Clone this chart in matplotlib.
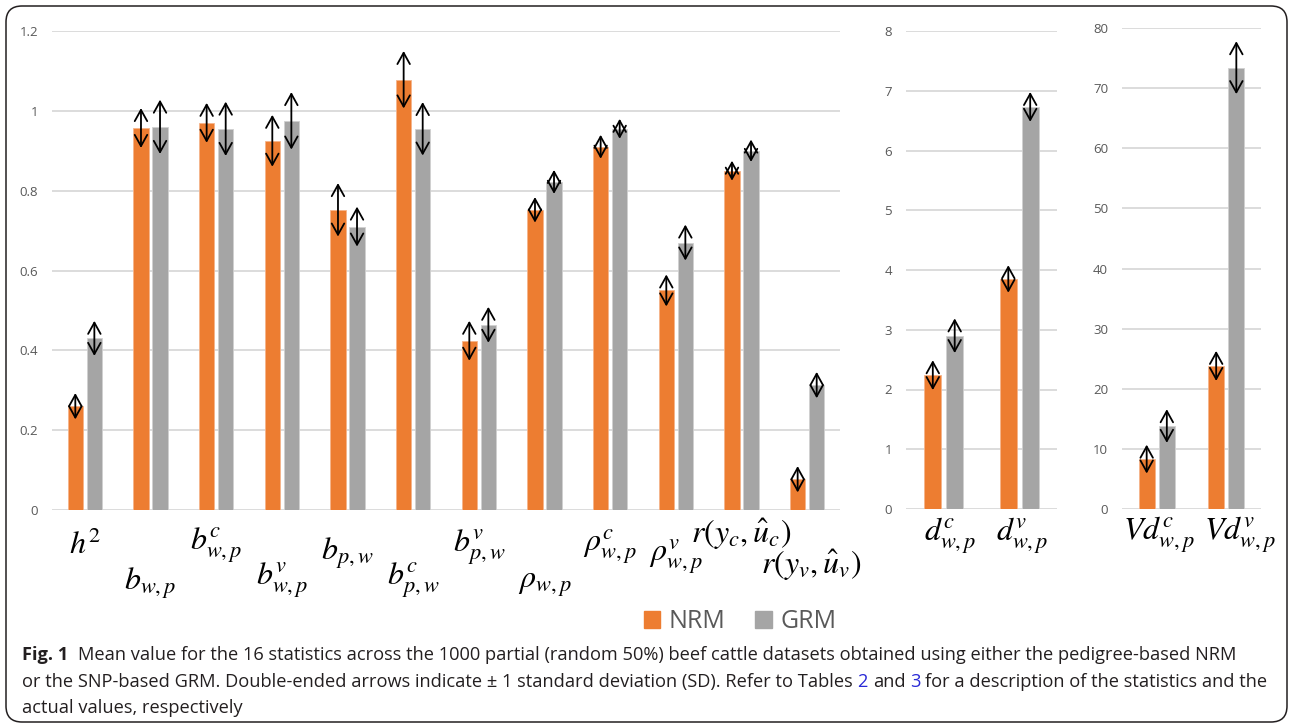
import matplotlib
matplotlib.use("Agg")
import matplotlib.pyplot as plt
import numpy as np
from matplotlib import font_manager
from matplotlib.patches import FancyBboxPatch
from matplotlib.transforms import IdentityTransform, blended_transform_factory

# ---- data -------------------------------------------------------------
stats_main = [r"$h^2$", r"$b_{w,p}$", r"$b_{w,p}^{c}$", r"$b_{w,p}^{v}$",
              r"$b_{p,w}$", r"$b_{p,w}^{c}$", r"$b_{p,w}^{v}$", r"$\rho_{w,p}$",
              r"$\rho_{w,p}^{c}$", r"$\rho_{w,p}^{v}$", r"$r(y_c,\hat{u}_c)$",
              r"$r(y_v,\hat{u}_v)$"]
nrm_main = [0.26, 0.957, 0.97, 0.925, 0.752, 1.078, 0.424, 0.752, 0.91, 0.55, 0.85, 0.077]
nrm_main_sd = [0.033, 0.05, 0.05, 0.065, 0.067, 0.072, 0.05, 0.032, 0.03, 0.04, 0.025, 0.033]
grm_main = [0.43, 0.96, 0.955, 0.975, 0.71, 0.955, 0.464, 0.822, 0.955, 0.67, 0.90, 0.313]
grm_main_sd = [0.044, 0.068, 0.068, 0.072, 0.05, 0.067, 0.045, 0.03, 0.025, 0.045, 0.028, 0.033]

stats_d = [r"$d_{w,p}^{c}$", r"$d_{w,p}^{v}$"]
nrm_d = [2.24, 3.85]
nrm_d_sd = [0.25, 0.23]
grm_d = [2.90, 6.73]
grm_d_sd = [0.29, 0.25]

stats_vd = [r"$Vd_{w,p}^{c}$", r"$Vd_{w,p}^{v}$"]
nrm_vd = [8.3, 23.8]
nrm_vd_sd = [2.4, 2.5]
grm_vd = [13.8, 73.4]
grm_vd_sd = [2.8, 4.4]

ticks_main = [0, 0.2, 0.4, 0.6, 0.8, 1.0, 1.2]
ticklabels_main = ["0", "0.2", "0.4", "0.6", "0.8", "1", "1.2"]
ticks_d = list(range(0, 9))
ticks_vd = list(range(0, 81, 10))

ORANGE = "#ED7D31"
GREY = "#A5A5A5"
GRID = "#D9D9D9"
TICK = "#595959"
INK = "#231F20"

W, H = 1290, 727
avail = {f.name for f in font_manager.fontManager.ttflist}
ui_font = "Open Sans" if "Open Sans" in avail else "DejaVu Sans"
plt.rcParams["mathtext.fontset"] = "stix"

fig = plt.figure(figsize=(W / 100, H / 100), dpi=100)


def px_axes(x0, x1, y_top, y_bot):
    return fig.add_axes([x0 / W, 1 - y_bot / H, (x1 - x0) / W, (y_bot - y_top) / H])


def draw_panel(ax, labels, nrm, nrm_sd, grm, grm_sd, ticks, ticklabels, ymax,
               label_y, label_dx):
    x = np.arange(len(labels))
    off, bw = 0.145, 0.23
    ax.bar(x - off, nrm, bw, color=ORANGE, edgecolor="#F6B48A", linewidth=0.6, zorder=2)
    ax.bar(x + off, grm, bw, color=GREY, edgecolor="#D0D0D0", linewidth=0.6, zorder=2)
    arrow = dict(arrowstyle="<->,head_length=0.45,head_width=0.25",
                 color="black", lw=1.3, shrinkA=0, shrinkB=0, mutation_scale=18)
    for xi, v, s in zip(x - off, nrm, nrm_sd):
        ax.annotate("", xy=(xi, v + s), xytext=(xi, v - s), arrowprops=arrow, zorder=3)
    for xi, v, s in zip(x + off, grm, grm_sd):
        ax.annotate("", xy=(xi, v + s), xytext=(xi, v - s), arrowprops=arrow, zorder=3)
    ax.set_xlim(-0.5, len(labels) - 0.5)
    ax.set_ylim(0, ymax)
    ax.set_yticks(ticks)
    ax.set_yticklabels(ticklabels)
    ax.set_xticks([])
    ax.grid(axis="y", color=GRID, lw=1.3, zorder=0)
    ax.set_axisbelow(True)
    for sp in ax.spines.values():
        sp.set_visible(False)
    ax.tick_params(axis="y", length=0, pad=10, labelsize=9.5, labelcolor=TICK)
    for lab in ax.get_yticklabels():
        lab.set_fontfamily(ui_font)
    tr = blended_transform_factory(ax.transData, fig.transFigure)
    for xi, lab, ly, dx in zip(x, labels, label_y, label_dx):
        ax.text(xi + dx, 1 - ly / H, lab, transform=tr, ha="center", va="center",
                fontsize=23, color="black", clip_on=False)


ax1 = px_axes(52, 840, 31, 510)
draw_panel(ax1, stats_main, nrm_main, nrm_main_sd, grm_main, grm_main_sd,
           ticks_main, ticklabels_main, 1.2,
           [545, 583, 545, 580, 553, 580, 547, 583, 547, 557, 534, 565],
           [0, 0, 0, 0, 0, 0, 0, 0, 0, 0, 0, 0.06])

ax2 = px_axes(906, 1057, 31, 509)
draw_panel(ax2, stats_d, nrm_d, nrm_d_sd, grm_d, grm_d_sd,
           ticks_d, [str(t) for t in ticks_d], 8, [536, 536], [0.08, 0.04])

ax3 = px_axes(1122, 1261, 28, 509)
draw_panel(ax3, stats_vd, nrm_vd, nrm_vd_sd, grm_vd, grm_vd_sd,
           ticks_vd, [str(t) for t in ticks_vd], 80, [535, 535], [0.03, 0.2])

# legend
handles = [plt.Rectangle((0, 0), 1, 1, color=ORANGE), plt.Rectangle((0, 0), 1, 1, color=GREY)]
fig.legend(handles, ["NRM", "GRM"], loc="center", bbox_to_anchor=(740 / W, 1 - 622 / H),
           ncol=2, frameon=False, handlelength=0.65, handleheight=0.65,
           handletextpad=0.35, columnspacing=1.2,
           prop={"family": ui_font, "size": 18}, labelcolor=TICK)

# outer rounded frame
fig.patches.append(FancyBboxPatch((6, 5), 1281, 716,
                                  boxstyle="round,pad=0,rounding_size=16",
                                  transform=IdentityTransform(), fill=False,
                                  edgecolor=INK, lw=1.1))

# caption
renderer = fig.canvas.get_renderer()


def text_w(s, size, weight="normal"):
    t = fig.text(0, 0, s, fontsize=size, family=ui_font, weight=weight)
    w = t.get_window_extent(renderer).width
    t.remove()
    return w


line1 = "Mean value for the 16 statistics across the 1000 partial (random 50%) beef cattle datasets obtained using either the pedigree-based NRM"
base = 14
full = text_w("Fig. 1", base, "bold") + 0.6 * base + text_w(line1, base)
cap_size = base * (1218 / full)
space = text_w("a a", cap_size) - text_w("aa", cap_size)


def put_line(x_px, y_px, parts):
    x = x_px
    for s, weight, color in parts:
        lead = len(s) - len(s.lstrip(" "))
        x += lead * space
        body = s.strip(" ")
        fig.text(x / W, 1 - y_px / H, body, fontsize=cap_size, family=ui_font,
                 weight=weight, color=color, va="baseline")
        x += text_w(body, cap_size, weight)
        x += (len(s) - len(s.rstrip(" "))) * space


put_line(22, 660, [("Fig. 1", "bold", INK), ("  " + line1, "normal", INK)])
put_line(22, 687, [("or the SNP-based GRM. Double-ended arrows indicate \u00b1 1 standard deviation (SD). Refer to Tables ", "normal", INK),
                   ("2", "normal", "#2929D6"), (" and ", "normal", INK),
                   ("3", "normal", "#2929D6"),
                   (" for a description of the statistics and the", "normal", INK)])
put_line(22, 713, [("actual values, respectively", "normal", INK)])

fig.savefig("out.png", dpi=100)
